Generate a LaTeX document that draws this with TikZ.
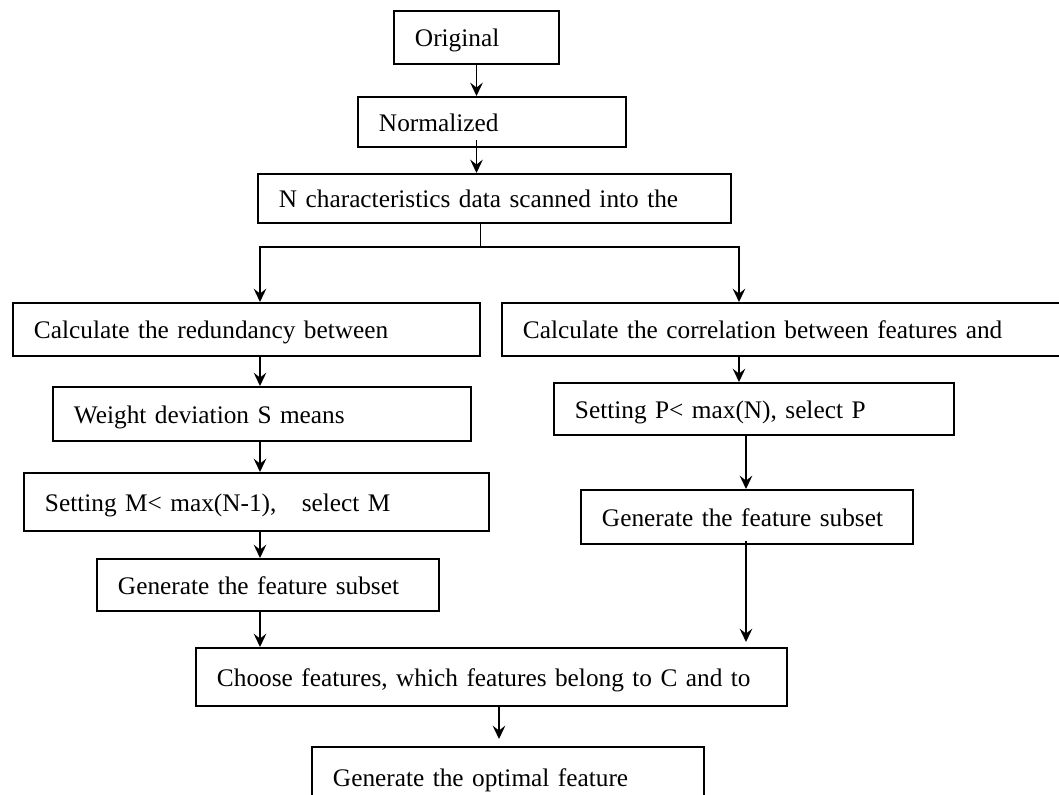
\documentclass[tikz,border=0pt]{standalone}
\usepackage{fontspec}
\setmainfont{Liberation Serif}
\usetikzlibrary{calc,arrows.meta}

\newcommand{\flowfont}{\fontsize{18}{21}\selectfont}

\begin{document}
\begin{tikzpicture}[x=0.025cm,y=-0.025cm,
		fbox/.style={draw, line width=1.4pt, anchor=north west, inner xsep=0.525cm, inner ysep=0pt, align=left, text height=0.46cm, text depth=0pt, font=\flowfont},
		arr/.style={line width=1pt, -{Stealth[length=9.5pt,width=9pt,inset=3.5pt]}},
		thinline/.style={line width=0.7pt}]
				\useasboundingbox (0,0) rectangle (1059,795);
				
				\node[fbox, text width=3.075cm, minimum height=1.325cm] (orig) at (393,10) {Original};
				\node[fbox, text width=5.65cm, minimum height=1.25cm] (norm) at (357,96) {Normalized};
				\node[fbox, text width=10.775cm, minimum height=1.225cm] (nchar) at (257,173) {N characteristics data scanned into the};
				
				\node[fbox, text width=10.625cm, minimum height=1.325cm] (redund) at (12,302) {Calculate the redundancy between};
				\node[fbox, text width=13.3cm, minimum height=1.325cm] (correl) at (501,302) {Calculate the correlation between features and};
				
				\node[fbox, text width=9.4cm, minimum height=1.35cm] (weight) at (52,386) {Weight deviation S means};
				\node[fbox, text width=10.575cm, minimum height=1.45cm] (setm) at (23,472) {Setting M< max(N-1),\ \ \ select M};
				\node[fbox, text width=7.5cm, minimum height=1.3cm] (genl) at (96,558) {Generate the feature subset};
				
				\node[fbox, text width=8.95cm, minimum height=1.3cm] (setp) at (553,382) {Setting P< max(N), select P};
				\node[fbox, text width=7.25cm, minimum height=1.35cm] (genr) at (580,489) {Generate the feature subset};
				
				\node[fbox, text width=13.725cm, minimum height=1.45cm] (choose) at (195,647) {Choose features, which features belong to C and to};
				\node[fbox, text width=8.75cm, minimum height=1.5cm] (final) at (311,746) {Generate the optimal feature};
				
				\coordinate (split) at (480,247);
				\coordinate (lcol) at (260,0);
				\coordinate (rcol) at (739,0);
				\coordinate (rcolb) at (746,0);
				\coordinate (mid) at (499,0);
				
				\draw[arr] (orig.south) -- (norm.north -| orig.south);
				\draw[arr] ($(norm.south -| orig.south)+(0,-8)$) -- (nchar.north -| orig.south);
				\draw[thinline] (nchar.south -| split) -- (split);
				\draw[arr] (split) -| (redund.north -| lcol);
				\draw[arr] (split) -| (correl.north -| rcol);
				
				\draw[arr] (redund.south -| lcol) -- (weight.north -| lcol);
				\draw[arr] (weight.south -| lcol) -- (setm.north -| lcol);
				\draw[arr] (setm.south -| lcol) -- (genl.north -| lcol);
				\draw[arr] (genl.south -| lcol) -- (choose.north -| lcol);
				
				\draw[arr] (correl.south -| rcol) -- (setp.north -| rcol);
				\draw[arr] (setp.south -| rcolb) -- (genr.north -| rcolb);
				\draw[arr] ($(genr.south -| rcolb)+(0,-4)$) -- ($(choose.north -| rcolb)+(0,-5)$);
				
				\draw[arr] (choose.south -| mid) -- ($(final.north -| mid)+(0,-7)$);
			\end{tikzpicture}
\end{document}
